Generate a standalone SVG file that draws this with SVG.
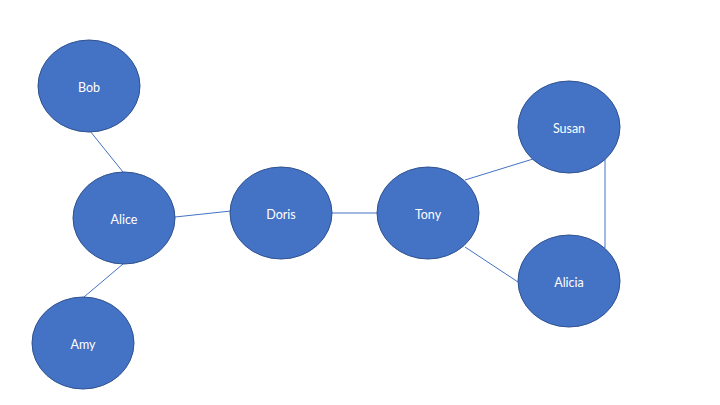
<svg xmlns="http://www.w3.org/2000/svg" width="720" height="405" viewBox="0 0 720 405">
<style>
.n{fill:#4472C4;stroke:#2F528F;stroke-width:1}
.t{fill:#FFFFFF;font-family:"Lato","Open Sans",sans-serif;font-size:12.5px;text-anchor:middle;dominant-baseline:central}
.e{stroke:#4472C4;stroke-width:1;fill:none}
</style>
<rect width="720" height="405" fill="#FFFFFF"/>
<g id="connectors">
<line class="e" x1="90" y1="131" x2="123" y2="172"/>
<line class="e" x1="123" y1="264" x2="84" y2="297"/>
<line class="e" x1="175" y1="217" x2="231" y2="211"/>
<line class="e" x1="332" y1="213" x2="378" y2="213"/>
<line class="e" x1="465" y1="180" x2="533" y2="159"/>
<line class="e" x1="465" y1="247" x2="518" y2="282"/>
<line class="e" x1="605" y1="159" x2="605" y2="248"/>
</g>
<g id="bob"><ellipse class="n" cx="89" cy="86" rx="51" ry="46"/><text class="t" x="89" y="87">Bob</text></g>
<g id="alice"><ellipse class="n" cx="124" cy="218" rx="51" ry="46"/><text class="t" x="124" y="219">Alice</text></g>
<g id="amy"><ellipse class="n" cx="83" cy="343" rx="51" ry="46"/><text class="t" x="83" y="344">Amy</text></g>
<g id="doris"><ellipse class="n" cx="281" cy="213" rx="51" ry="46"/><text class="t" x="281" y="214">Doris</text></g>
<g id="tony"><ellipse class="n" cx="428" cy="213" rx="51" ry="46"/><text class="t" x="428" y="214">Tony</text></g>
<g id="susan"><ellipse class="n" cx="569" cy="127" rx="51" ry="46"/><text class="t" x="569" y="128">Susan</text></g>
<g id="alicia"><ellipse class="n" cx="569" cy="281" rx="51" ry="46"/><text class="t" x="569" y="282">Alicia</text></g>
</svg>
